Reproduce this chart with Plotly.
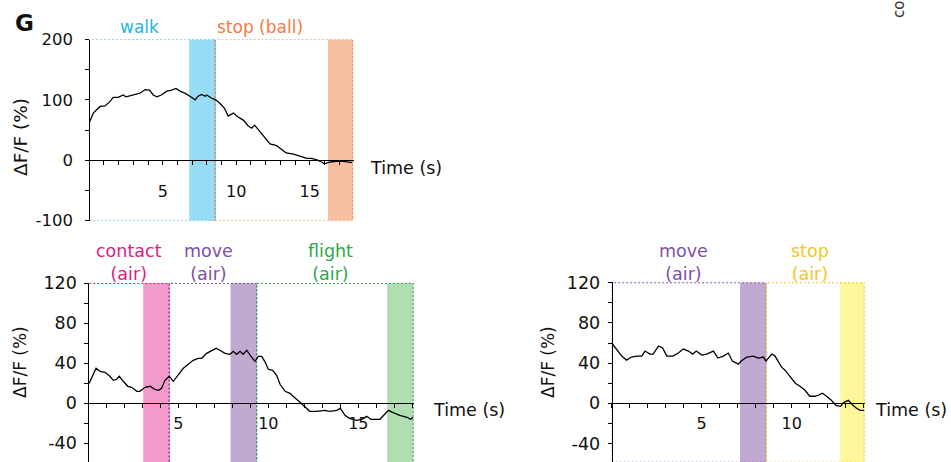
import plotly.graph_objects as go

W, H = 951, 462
FONT = "DejaVu Sans"

# ---------------- data ----------------
# Panel 1 (top-left): walk -> stop (ball)
t1 = [0.0, 0.27, 0.73, 1.07, 1.4, 1.63, 1.97, 2.3, 2.5, 2.9, 3.1, 3.45, 3.8, 4.1, 4.35, 4.6, 4.9,
      5.25, 5.6, 5.9, 6.2, 6.5, 6.85, 7.2, 7.4, 7.65, 7.9, 8.0, 8.3, 8.6, 8.9, 9.2, 9.45, 9.8,
      10.1, 10.5, 10.8, 11.05, 11.25, 11.6, 11.95, 12.3, 12.75, 13.1, 13.4, 13.9, 14.3, 14.8,
      15.1, 15.45, 15.8, 16.0, 16.4, 16.8, 17.3, 17.9]
v1 = [62, 78, 89, 90, 97, 104, 104, 108, 105, 107, 109, 111, 117, 116, 108, 105, 108,
      114, 116, 119, 114, 111, 106, 100, 106, 109, 106, 108, 103, 100, 94, 86, 73, 78,
      72, 66, 57, 53, 58, 47, 36, 27, 24, 17, 12, 10, 7, 3,
      3, 1, -3, -6, -3, -2, -2, -4]

# Panel 2 (bottom-left): contact -> move -> flight (air)
t2 = [0.05, 0.24, 0.43, 0.65, 0.93, 1.2, 1.39, 1.57, 1.72, 1.94, 2.2, 2.4, 2.7, 2.87, 3.15, 3.43,
      3.7, 3.9, 4.07, 4.26, 4.5, 4.72, 5.0, 5.28, 5.55, 5.83, 6.1, 6.3, 6.57, 6.85, 7.1, 7.3,
      7.6, 7.87, 8.05, 8.24, 8.43, 8.6, 8.8, 9.0, 9.26, 9.44, 9.63, 9.8, 10.0, 10.24, 10.46,
      10.65, 10.93, 11.2, 11.4, 11.67, 11.94, 12.3, 12.7, 13.15, 13.4, 13.8, 14.0, 14.26, 14.5,
      14.9, 15.2, 15.46, 15.7, 16.2, 16.67, 16.9, 17.3, 17.7, 17.9, 18.05]
v2 = [20, 27, 35, 32, 31, 27, 23, 24, 27, 22, 17, 16, 12, 12, 16, 17,
      14, 13, 15, 23, 27, 22, 28, 35, 39, 43, 45, 45, 50, 53, 55, 53,
      50, 49, 52, 49, 52, 49, 53, 48, 42, 47, 47, 42, 34, 33, 28,
      19, 12, 10, 7, 3, -2, -8, -8, -7, -8, -7, -5, -12, -15,
      -17, -16, -13, -16, -16, -7, -9, -12, -14, -16, -14]

# Panel 3 (bottom-right): move -> stop (air)
t3 = [0.0, 0.28, 0.56, 0.83, 1.1, 1.39, 1.67, 1.85, 2.13, 2.3, 2.6, 2.83, 3.06, 3.4, 3.7, 3.98,
      4.26, 4.5, 4.7, 5.0, 5.28, 5.65, 5.9, 6.2, 6.48, 6.7, 7.04, 7.2, 7.5, 7.87, 8.15, 8.43,
      8.57, 8.7, 8.9, 9.07, 9.26, 9.44, 9.63, 9.8, 10.0, 10.2, 10.46, 10.74, 11.0, 11.3, 11.48,
      11.7, 11.94, 12.2, 12.46, 12.7, 12.9, 13.15, 13.4, 13.6, 13.8, 14.03]
v3 = [60, 53, 47, 43, 46, 47, 47, 52, 49, 49, 57, 55, 47, 47, 50, 54,
      52, 49, 52, 48, 49, 52, 45, 47, 50, 42, 39, 42, 46, 47, 45, 46,
      42, 45, 49, 47, 42, 36, 33, 29, 25, 20, 17, 13, 7, 7, 8,
      10, 7, 3, -2, -3, 1, 3, -2, -5, -7, -7]

# behaviour periods: (label, start, end, text colour, band colour, band start)
periods1 = [("walk", 0.0, 8.57, "#29B3E6", "#97DCF5", 6.8),
            ("stop (ball)", 8.57, 17.94, "#F47B45", "#F9BFA2", 16.24)]
periods2 = [("contact<br>(air)", 0.0, 4.5, "#E5187E", "#F49BCC", 3.05),
            ("move<br>(air)", 4.5, 9.35, "#7E4FA6", "#C0AAD2", 7.9),
            ("flight<br>(air)", 9.35, 18.05, "#2DA84E", "#B0DEB0", 16.6)]
periods3 = [("move<br>(air)", 0.0, 8.58, "#7E4FA6", "#C0AAD2", 7.13),
            ("stop<br>(air)", 8.58, 14.03, "#F5C61C", "#FFF799", 12.7)]

x_ticks1 = list(range(0, 18))
x_ticks2 = list(range(0, 19))
x_ticks3 = list(range(0, 15))
x_labels = [5, 10, 15]
y_ticks1 = [-100, -50, 0, 50, 100, 150, 200]
y_labels1 = [-100, 0, 100, 200]
y_ticks23 = [-40, -20, 0, 20, 40, 60, 80, 100, 120]
y_labels23 = [-40, 0, 40, 80, 120]


def px(x):
    return x / W


def py(y):
    return 1 - y / H


def txt(vals, labelled):
    return [str(v) if v in labelled else "" for v in vals]


fig = go.Figure()

panels = [
    dict(ax="", t=t1, v=v1, periods=periods1, xdom=[px(89.3), px(353.5)], xr=[0, 17.98],
         ydom=[py(220.5), py(39.5)], yr=[-100, 200], xpos=py(160), ypos=px(89.3),
         xt=x_ticks1, yt=y_ticks1, yl=y_labels1, yfs=16.5, ystand=9, xstand=13, box_lo=-100),
    dict(ax="2", t=t2, v=v2, periods=periods2, xdom=[px(88.3), px(413.8)], xr=[0, 18.08],
         ydom=[0, py(282.8)], yr=[-58.7, 120.5], xpos=py(403.3), ypos=px(88.3),
         xt=x_ticks2, yt=y_ticks23, yl=y_labels23, yfs=17.5, ystand=4, xstand=1, box_lo=-65),
    dict(ax="3", t=t3, v=v3, periods=periods3, xdom=[px(611.7), px(864.8)], xr=[0, 14.06],
         ydom=[0, py(282.2)], yr=[-58.4, 120.5], xpos=py(403.3), ypos=px(611.7),
         xt=x_ticks3, yt=y_ticks23, yl=y_labels23, yfs=17.5, ystand=4, xstand=1, box_lo=-58.7),
]

shapes = []
for p in panels:
    xa, ya = "x" + p["ax"], "y" + p["ax"]
    lo, hi = p["yr"]
    # bands first, then dotted boxes
    for (lab, s, e, tc, bc, bs) in p["periods"]:
        shapes.append(dict(type="rect", xref=xa, yref=ya, x0=bs, x1=e, y0=lo - 10, y1=max(p["yt"]),
                           fillcolor=bc, line=dict(width=0), layer="below"))
    for (lab, s, e, tc, bc, bs) in p["periods"]:
        shapes.append(dict(type="rect", xref=xa, yref=ya, x0=s, x1=e,
                           y0=p["box_lo"], y1=max(p["yt"]),
                           fillcolor="rgba(0,0,0,0)",
                           line=dict(color=tc, width=1.2, dash="2px,2px"),
                           layer="below"))
    fig.add_trace(go.Scatter(x=p["t"], y=p["v"], mode="lines",
                             line=dict(color="black", width=1.3),
                             xaxis=xa, yaxis=ya, showlegend=False, hoverinfo="skip"))
    key = p["ax"]
    fig.update_layout(**{
        "xaxis" + key: dict(domain=p["xdom"], range=p["xr"], anchor="free", position=p["xpos"],
                            showline=True, linecolor="black", linewidth=1.2, ticks="outside",
                            ticklen=4, tickwidth=1, tickcolor="black", tickmode="array",
                            tickvals=p["xt"], ticktext=txt(p["xt"], x_labels), showgrid=False,
                            zeroline=False, ticklabelstandoff=p["xstand"], automargin=False,
                            tickfont=dict(family=FONT, size=16, color="#111")),
        "yaxis" + key: dict(domain=p["ydom"], range=p["yr"], anchor="free", position=p["ypos"],
                            showline=True, linecolor="black", linewidth=1, ticks="outside",
                            ticklen=4, tickwidth=1, tickcolor="black", tickmode="array",
                            tickvals=p["yt"], ticktext=txt(p["yt"], p["yl"]), showgrid=False,
                            zeroline=False, ticklabelstandoff=p["ystand"], automargin=False,
                            tickfont=dict(family=FONT, size=p["yfs"], color="#111")),
    })

annotations = []


def ann(text, x, y, size, color="#111", angle=0, bold=False):
    annotations.append(dict(text=("<b>%s</b>" % text) if bold else text, x=px(x), y=py(y),
                            xref="paper", yref="paper", showarrow=False, xanchor="center",
                            yanchor="middle", textangle=angle,
                            font=dict(family=FONT, size=size, color=color)))


# panel letter and cut-off label
ann("G", 24, 23, 23, "#111", bold=True)
ann("co", 899, 10, 15, "#333", angle=-90)

# axis titles
ann("ΔF/F (%)", 20, 137, 18.5, angle=-90)
ann("ΔF/F (%)", 20, 362, 17, angle=-90)
ann("ΔF/F (%)", 548, 362, 17, angle=-90)
ann("Time (s)", 406, 168, 17.5)
ann("Time (s)", 469, 410, 17.5)
ann("Time (s)", 911, 410, 17.5)

# behaviour labels
ann(periods1[0][0], 139, 27, 17, periods1[0][3])
ann(periods1[1][0], 260, 27, 17, periods1[1][3])
ann(periods2[0][0], 129, 262, 17.5, periods2[0][3])
ann(periods2[1][0], 208, 262, 17.5, periods2[1][3])
ann(periods2[2][0], 330, 262, 17.5, periods2[2][3])
ann(periods3[0][0], 683, 262, 17.5, periods3[0][3])
ann(periods3[1][0], 810, 262, 17.5, periods3[1][3])

fig.update_layout(template="none", width=W, height=H,
                  margin=dict(l=0, r=0, t=0, b=0, pad=0, autoexpand=False),
                  paper_bgcolor="white", plot_bgcolor="white",
                  shapes=shapes, annotations=annotations, showlegend=False,
                  font=dict(family=FONT, color="#111"))

fig.write_html("out.html", config={"displayModeBar": False},
               post_script="document.body.style.margin='0';document.body.style.overflow='hidden';")
